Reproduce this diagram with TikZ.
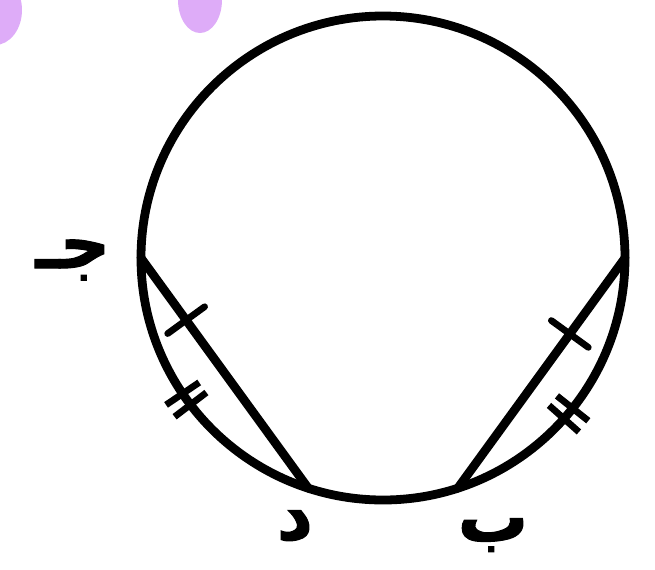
\documentclass[tikz,border=0pt]{standalone}
\usepackage{fontspec}
\newfontfamily\arabicfont[Script=Arabic, BoldFeatures={FakeBold=1.5}]{DejaVu Sans}
\TeXXeTstate=1
\definecolor{blobpurple}{RGB}{222, 172, 248}
\usetikzlibrary{decorations.markings}

\begin{document}
\begin{tikzpicture}[
      x=0.02cm, y=0.02cm,
      edge/.style={line width=5pt, line cap=round},
      hatch/.style={line width=3.8pt},
      lbl/.style={font=\arabicfont\bfseries\fontsize{40}{48}\selectfont, inner sep=0pt},
      chordmark/.style={postaction={decorate},
                  decoration={markings, mark=at position #1 with
                  {\draw[hatch] (0,-13pt) -- (0,13pt);}}}
    ]
    \useasboundingbox (-383,-311) rectangle (272,258);

    % stray marks at the top
    \begin{scope}
      \clip (-383,-311) rectangle (272,258);
      \fill[blobpurple] (-388,248) ellipse (27 and 35);
      \fill[blobpurple] (-183,258) ellipse (22 and 33);
    \end{scope}

    \coordinate (O) at (0,0);
    \coordinate (J) at (180:242);
    \coordinate (D) at (252:242);
    \coordinate (B) at (288:242);
    \coordinate (R) at (0:242);

    \draw[edge] (O) circle (242);
    \draw[edge, chordmark=0.27] (J) -- (D);
    \draw[edge, chordmark=0.33] (R) -- (B);

    % equal arcs
    \foreach \a in {214.1, 217.3, 318.4, 321.6}
      \draw[hatch] (\a:222) -- (\a:262);

    \node[lbl] (jim) at (-310,-2)   {\beginR جـ\endR};
    \node[lbl] (dal) at (-88,-268)  {\beginR د\endR};
    \node[lbl] (ba)  at (110,-277)  {\beginR ب\endR};
  \end{tikzpicture}
\end{document}
